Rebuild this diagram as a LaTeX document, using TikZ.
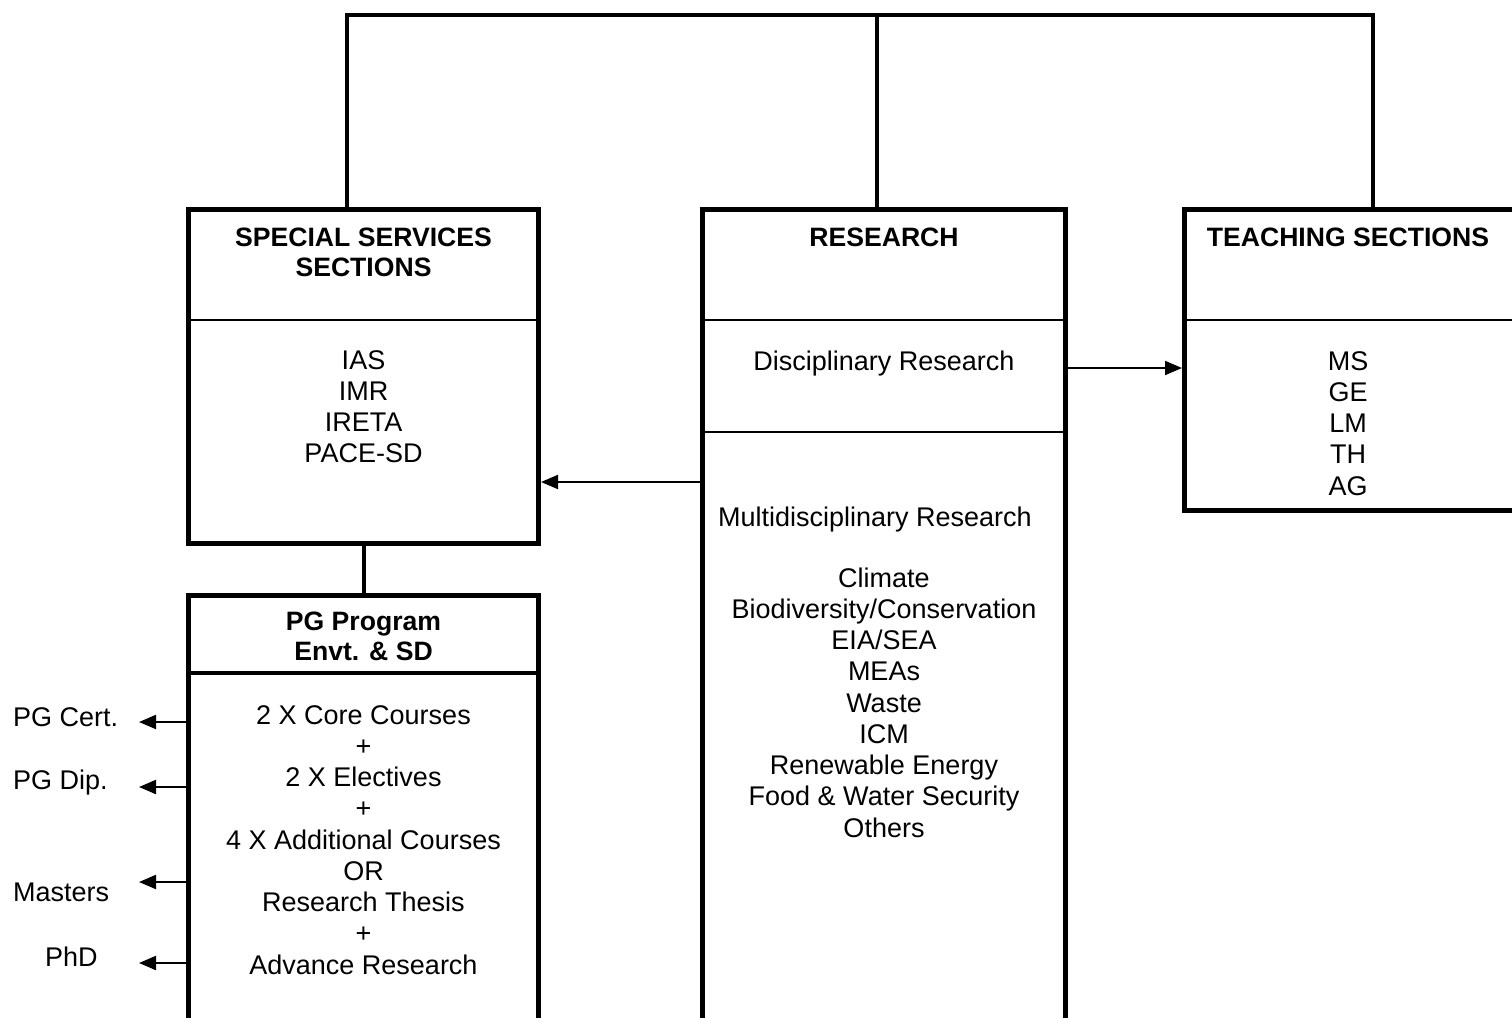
\documentclass[tikz,border=0pt]{standalone}
\usepackage{fontspec}
\setmainfont{Liberation Sans}
\usetikzlibrary{arrows.meta}
\begin{document}
\begin{tikzpicture}[x=1pt,y=-1pt,
  box/.style={draw, line width=5pt, inner sep=0pt, anchor=center},
  conn/.style={line width=4pt, line join=miter},
  divline/.style={line width=2pt},
  thickdiv/.style={line width=3.5pt},
  arr/.style={line width=2pt, -{Triangle[length=17pt,width=14pt]}},
  txt/.style={font=\fontsize{27}{31.25}\selectfont, align=center, anchor=base, inner sep=0pt},
  ttl/.style={font=\fontsize{26.6}{30.5}\selectfont\bfseries, align=center, anchor=base, inner sep=0pt},
  lbl/.style={font=\fontsize{27}{31.25}\selectfont, anchor=base west, inner sep=0pt},
]
\useasboundingbox (0,0) rectangle (1512,1017);

% boxes
\node[box, minimum width=350pt, minimum height=333.5pt] (ss) at (363.5,376.25) {};
\node[box, minimum width=350pt, minimum height=464.5pt] (pg) at (363.5,827.75) {};
\node[box, minimum width=363pt, minimum height=850.5pt] (res) at (884,634.75) {};
\node[box, minimum width=355.5pt, minimum height=300.5pt] (teach) at (1362.25,359.75) {};

% dividers
\coordinate (d1) at (0,320);
\coordinate (d2) at (0,432);
\coordinate (d3) at (0,673);
\draw[divline] (ss.west |- d1) -- (ss.east |- d1);
\draw[divline] (res.west |- d1) -- (res.east |- d1);
\draw[divline] (res.west |- d2) -- (res.east |- d2);
\draw[divline] (teach.west |- d1) -- (teach.east |- d1);
\draw[thickdiv] (pg.west |- d3) -- (pg.east |- d3);

% top connectors
\coordinate (j1) at (347,15);
\coordinate (j2) at (877,15);
\coordinate (j3) at (1373,15);
\draw[conn] (j1 |- ss.north) -- (j1) -- (j3) -- (j3 |- teach.north);
\draw[conn] (j2) -- (j2 |- res.north);
\draw[conn] (ss.south) -- (pg.north);

% arrows
\coordinate (a1) at (0,482);
\coordinate (a2) at (0,368);
\draw[arr] (res.west |- a1) -- (ss.east |- a1);
\draw[arr] (res.east |- a2) -- (teach.west |- a2);
\coordinate (pc) at (139,722);
\coordinate (pd) at (139,787);
\coordinate (pm) at (139,882);
\coordinate (pp) at (139,963);
\draw[arr] (pg.west |- pc) -- (pc);
\draw[arr] (pg.west |- pd) -- (pd);
\draw[arr] (pg.west |- pm) -- (pm);
\draw[arr] (pg.west |- pp) -- (pp);

% texts (anchor base = baseline of the last line)
\node[ttl] (sst) at (363.5,276.5) {SPECIAL SERVICES\\SECTIONS};
\node[txt] (ssl) at (363.5,462.75) {IAS\\IMR\\IRETA\\PACE-SD};
\node[ttl] (rest) at (884,246) {RESEARCH};
\node[txt] (dr) at (884,370) {Disciplinary Research};
\node[txt] (mr) at (875,526) {Multidisciplinary Research};
\node[txt] (mrl) at (884,837) {Climate\\Biodiversity/Conservation\\EIA/SEA\\MEAs\\Waste\\ICM\\Renewable Energy\\Food \& Water Security\\Others};
\node[ttl] (tt) at (1348,246) {TEACHING SECTIONS};
\node[txt] (tl) at (1348,495) {MS\\GE\\LM\\TH\\AG};
\node[ttl] (pgt) at (363.5,660.5) {PG Program\\Envt. \& SD};
\node[txt] (pgl) at (363.5,974) {2 X Core Courses\\+\\2 X Electives\\+\\4 X Additional Courses\\OR\\Research Thesis\\+\\Advance Research};
\node[lbl] (l1) at (13,726) {PG Cert.};
\node[lbl] (l2) at (13,789) {PG Dip.};
\node[lbl] (l3) at (13,901) {Masters};
\node[lbl] (l4) at (45,966) {PhD};
\end{tikzpicture}
\end{document}
